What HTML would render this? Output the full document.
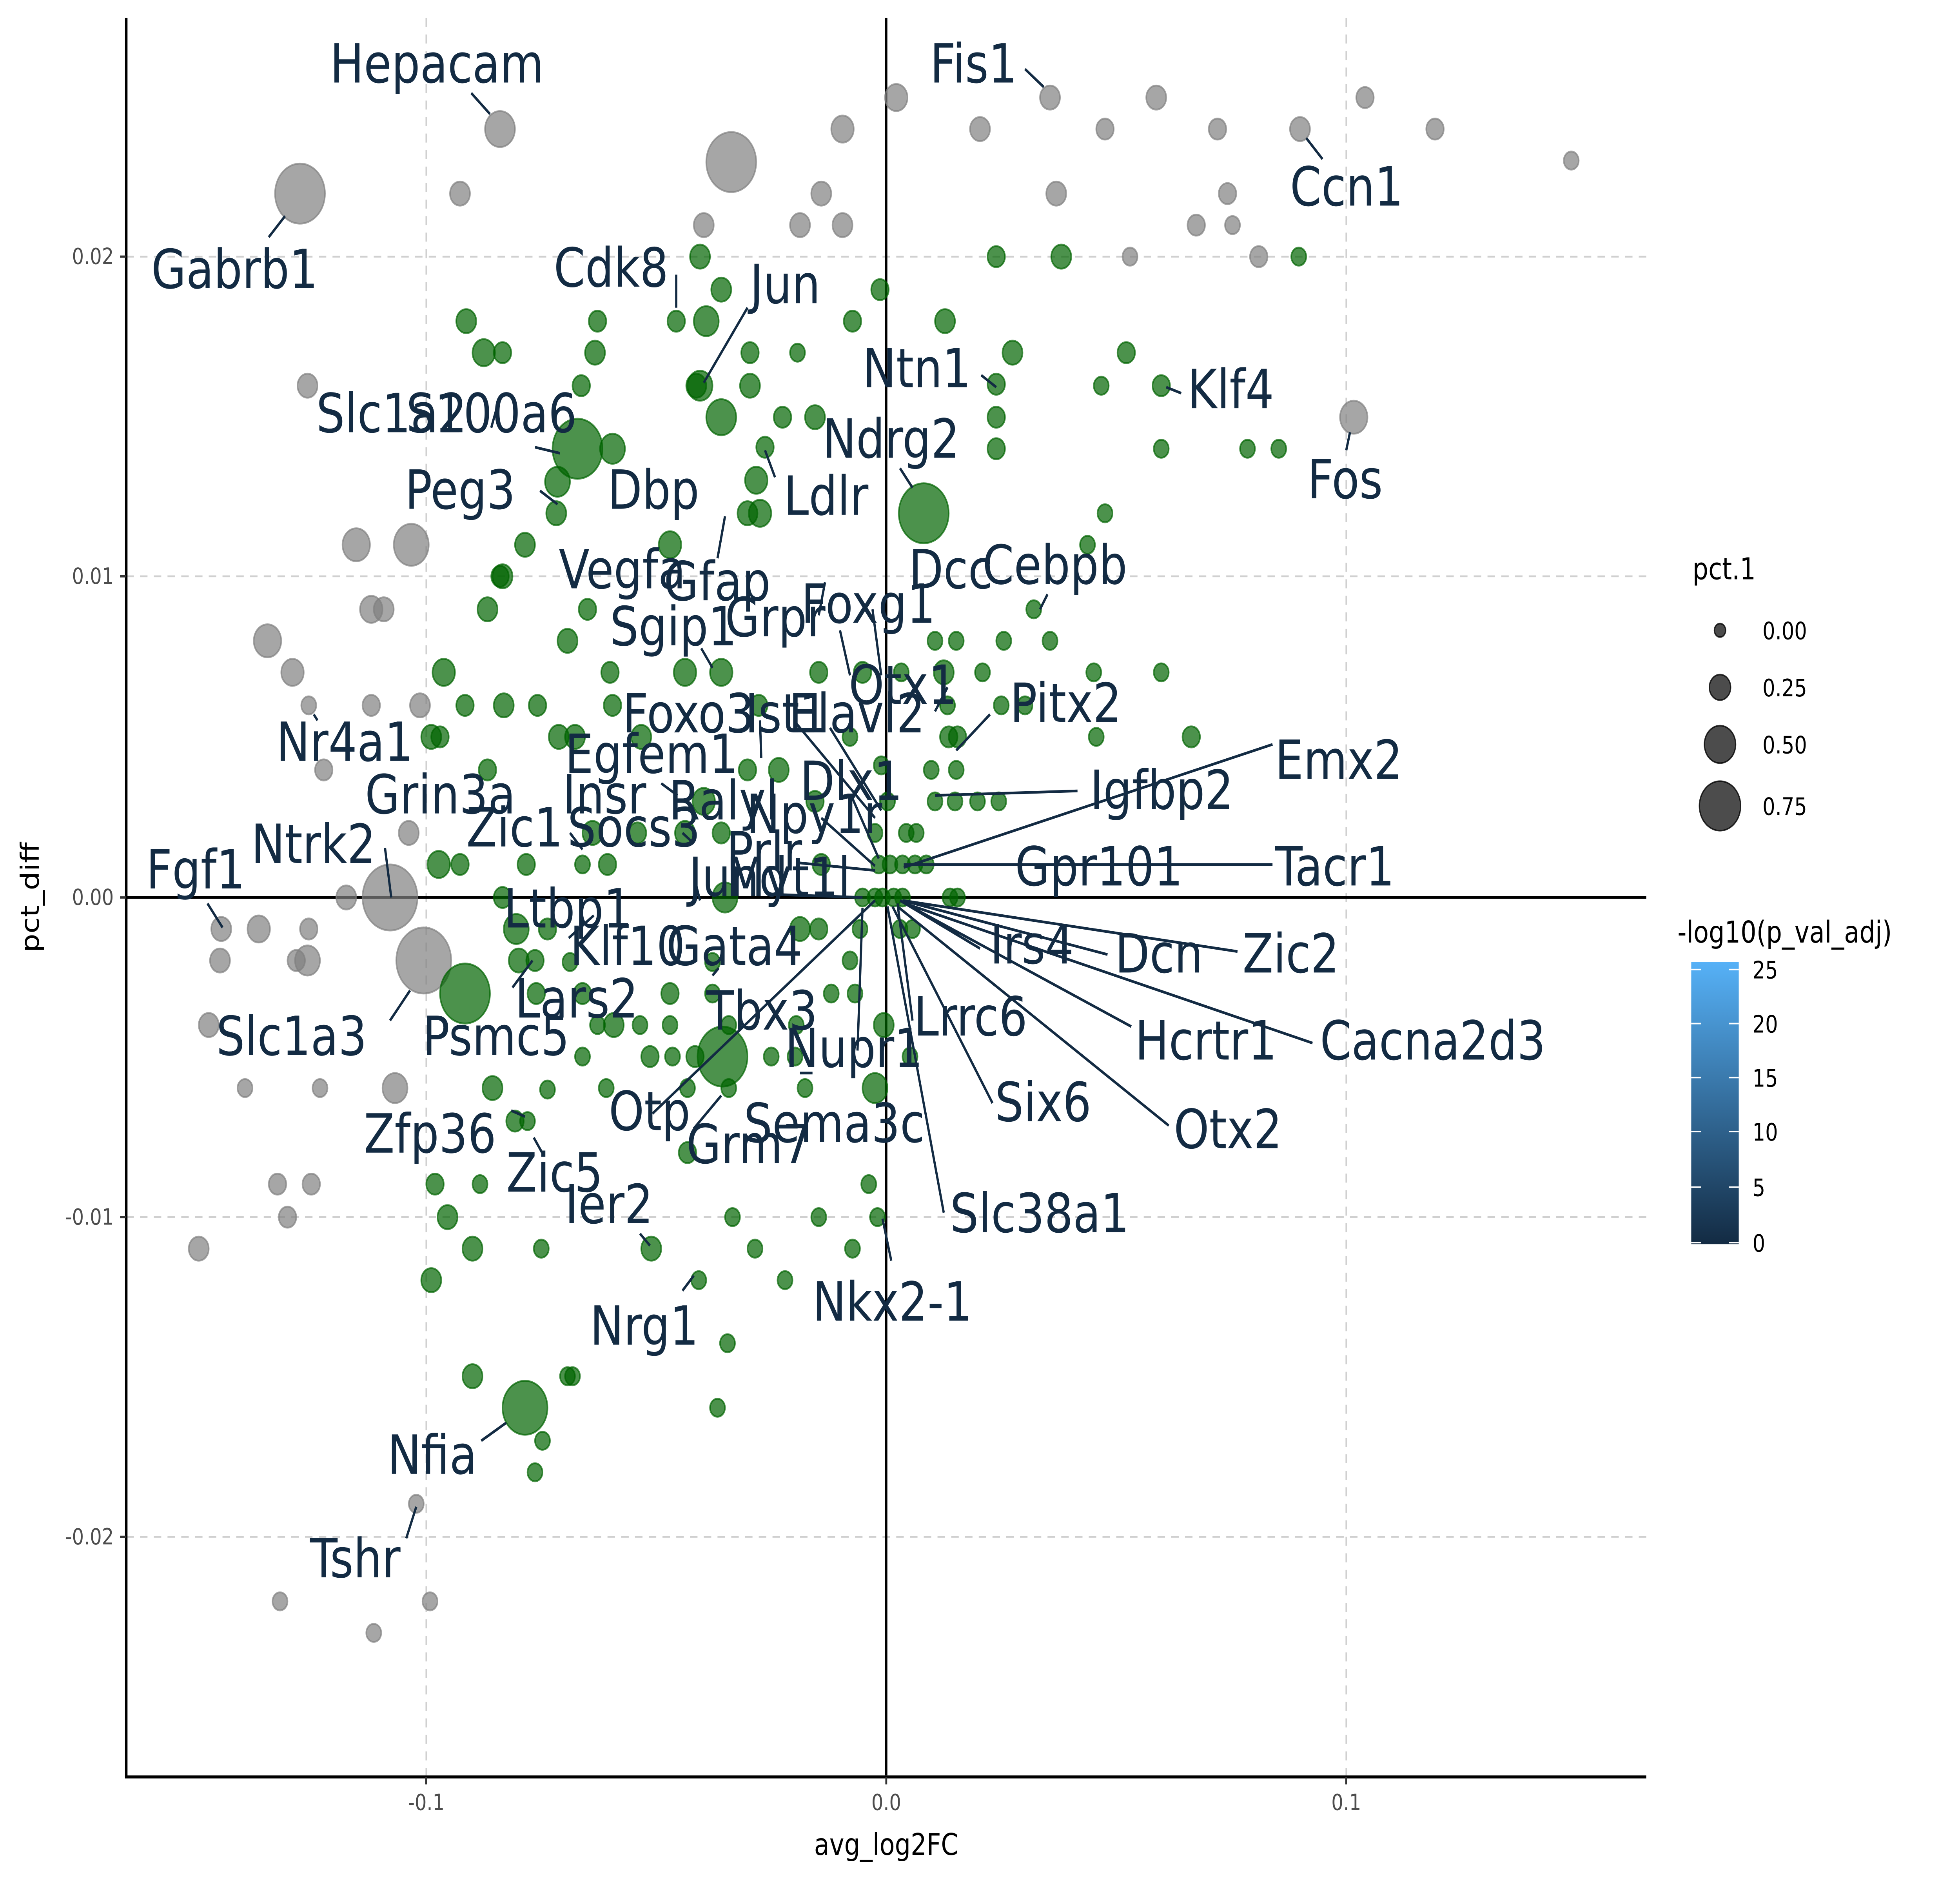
<!DOCTYPE html>
<html><head><meta charset="utf-8"><style>
html,body{margin:0;padding:0;background:#fff;overflow:hidden;width:100%;height:100%}
svg{display:block;position:fixed;left:0;top:0;width:100vw;height:100vh}
.l{font-family:"DejaVu Sans","Liberation Sans",sans-serif;font-size:36px;fill:#132B43}
.t{font-family:"DejaVu Sans","Liberation Sans",sans-serif;font-size:15px;fill:#4d4d4d}
.a{font-family:"DejaVu Sans","Liberation Sans",sans-serif;font-size:20px;fill:#000}
.g{font-family:"DejaVu Sans","Liberation Sans",sans-serif;font-size:16px;fill:#000}
</style></head><body>
<svg id="s" viewBox="0 0 1568 1254" preserveAspectRatio="none" xmlns="http://www.w3.org/2000/svg">
<rect width="1568" height="1254" fill="#fff"/>
<g stroke="#d0d0d0" stroke-width="1.2" stroke-dasharray="6,5">
<line x1="341" y1="12" x2="341" y2="1183"/><line x1="1077" y1="12" x2="1077" y2="1183"/>
<line x1="101" y1="171" x2="1317" y2="171"/><line x1="101" y1="384" x2="1317" y2="384"/>
<line x1="101" y1="811" x2="1317" y2="811"/><line x1="101" y1="1024" x2="1317" y2="1024"/>
</g>
<line x1="709" y1="12" x2="709" y2="1183" stroke="#000" stroke-width="1.8"/>
<line x1="101" y1="598" x2="1317" y2="598" stroke="#000" stroke-width="1.8"/>
<g id="pts"></g>
<g id="lines" stroke="#132B43" stroke-width="1.8" fill="none">
<path d="M377 62L392 76M820 46L835 58M1045 92L1058 106M215 158L228 144M541 183L541 205M598 205L563 255M785 250L797 258M945 262L933 258M393 285L398 270M428 298L448 302M1077 300L1080 288M432 327L446 336M612 300L620 318M720 312L730 325M574 372L580 344M838 396L832 406M655 410L660 388M561 432L570 445M672 420L680 450M698 406L705 450M748 474L758 458M792 476L765 500M251 476L254 480M1018 496L723 578M608 480L609 505M637 482L700 545M664 485L705 540M862 527L748 530M529 522L542 530M682 532L703 572M546 555L555 562M657 545L700 577M456 555L466 566M640 575L700 580M308 565L313 598M810 576L723 576M1018 576L723 576M166 602L178 618M557 590L560 600M620 596L690 598M784 632L720 600M886 636L722 600M990 634L722 600M455 625L475 610M410 658L426 640M730 680L718 602M312 680L328 660M905 684L724 602M1050 695L724 602M570 650L575 645M686 700L690 605M794 735L714 604M522 742L700 600M640 715L650 715M935 750L718 604M409 740L420 744M427 758L435 770M555 752L577 730M755 808L710 604M512 822L520 830M713 840L706 812M546 860L555 850M385 960L405 948M325 1025L333 1004"/>
</g>
<g class="l">
<text x="264" y="55">Hepacam</text><text x="744" y="55">Fis1</text><text x="1032" y="137">Ccn1</text>
<text x="121" y="192">Gabrb1</text><text x="443" y="191">Cdk8</text><text x="600" y="202">Jun</text>
<text x="690" y="258">Ntn1</text><text x="950" y="272">Klf4</text><text x="253" y="288">Slc1a2</text>
<text x="325" y="288">S100a6</text><text x="658" y="305">Ndrg2</text><text x="1046" y="332">Fos</text>
<text x="324" y="339">Peg3</text><text x="486" y="339">Dbp</text><text x="627" y="343">Ldlr</text>
<text x="447" y="392">Vegfa</text><text x="531" y="400">Gfap</text><text x="727" y="392">Dcc</text>
<text x="786" y="389">Cebpb</text><text x="641" y="415">Foxg1</text><text x="488" y="430">Sgip1</text>
<text x="580" y="424">Grpr</text><text x="679" y="469">Otx1</text><text x="808" y="481">Pitx2</text>
<text x="221" y="507">Nr4a1</text><text x="498" y="488">Foxo3</text><text x="596" y="488">Ist1</text>
<text x="631" y="488">Elavl2</text><text x="1020" y="519">Emx2</text><text x="452" y="515">Egfem1</text>
<text x="640" y="533">Dlx1</text><text x="872" y="539">Igfbp2</text><text x="292" y="542">Grin3a</text>
<text x="450" y="542">Insr</text><text x="535" y="546">Ralyl</text><text x="373" y="564">Zic1</text>
<text x="454" y="564">Socs3</text><text x="597" y="555">Npy1r</text><text x="201" y="575">Ntrk2</text>
<text x="581" y="580">Prlr</text><text x="812" y="590">Gpr101</text><text x="1020" y="590">Tacr1</text>
<text x="117" y="592">Fgf1</text><text x="551" y="597">Jund</text><text x="581" y="597">Myt1l</text>
<text x="403" y="618">Ltbp1</text><text x="792" y="642">Irs4</text><text x="892" y="648">Dcn</text>
<text x="994" y="648">Zic2</text><text x="456" y="643">Klf10</text><text x="533" y="643">Gata4</text>
<text x="412" y="678">Lars2</text><text x="731" y="690">Lrrc6</text><text x="173" y="703">Slc1a3</text>
<text x="338" y="703">Psmc5</text><text x="565" y="686">Tbx3</text><text x="908" y="706">Hcrtr1</text>
<text x="1056" y="706">Cacna2d3</text><text x="628" y="711">Nupr1</text><text x="796" y="747">Six6</text>
<text x="487" y="753">Otp</text><text x="595" y="761">Sema3c</text><text x="291" y="768">Zfp36</text>
<text x="939" y="765">Otx2</text><text x="549" y="775">Grm7</text><text x="405" y="794">Zic5</text>
<text x="452" y="815">Ier2</text><text x="760" y="821">Slc38a1</text><text x="650" y="880">Nkx2-1</text>
<text x="472" y="896">Nrg1</text><text x="310" y="982">Nfia</text><text x="248" y="1051">Tshr</text>
</g>
<line x1="101" y1="12" x2="101" y2="1184" stroke="#000" stroke-width="2"/>
<line x1="100" y1="1184" x2="1317" y2="1184" stroke="#000" stroke-width="2"/>
<g stroke="#333" stroke-width="1.5">
<line x1="96" y1="171" x2="101" y2="171"/><line x1="96" y1="384" x2="101" y2="384"/><line x1="96" y1="598" x2="101" y2="598"/><line x1="96" y1="811" x2="101" y2="811"/><line x1="96" y1="1024" x2="101" y2="1024"/>
<line x1="341" y1="1184" x2="341" y2="1189"/><line x1="709" y1="1184" x2="709" y2="1189"/><line x1="1077" y1="1184" x2="1077" y2="1189"/>
</g>
<g class="t" text-anchor="end">
<text x="91" y="176">0.02</text><text x="91" y="389">0.01</text><text x="91" y="603">0.00</text><text x="91" y="816">-0.01</text><text x="91" y="1029">-0.02</text>
</g>
<g class="t" text-anchor="middle">
<text x="341" y="1206">-0.1</text><text x="709" y="1206">0.0</text><text x="1077" y="1206">0.1</text>
</g>
<text class="a" x="709" y="1236" text-anchor="middle">avg_log2FC</text>
<text class="a" x="31" y="598" text-anchor="middle" transform="rotate(-90 31 598)">pct_diff</text>
<text class="a" x="1354" y="386">pct.1</text>
<g fill="#000" fill-opacity="0.7" stroke="#000" stroke-opacity="0.8" stroke-width="1">
<circle cx="1376" cy="420" r="4.5"/><circle cx="1376" cy="458" r="8.5"/><circle cx="1376" cy="496" r="12.5"/><circle cx="1376" cy="537" r="16.5"/>
</g>
<g class="g"><text x="1410" y="426">0.00</text><text x="1410" y="464">0.25</text><text x="1410" y="502">0.50</text><text x="1410" y="543">0.75</text></g>
<text class="a" x="1342" y="628">-log10(p_val_adj)</text>
<defs><linearGradient id="cb" x1="0" y1="0" x2="0" y2="1"><stop offset="0" stop-color="#56B1F7"/><stop offset="1" stop-color="#132B43"/></linearGradient></defs>
<rect x="1353" y="641" width="38" height="188" fill="url(#cb)"/>
<g stroke="#fff" stroke-width="1">
<path d="M1353 646h8M1383 646h8M1353 682h8M1383 682h8M1353 718h8M1383 718h8M1353 754h8M1383 754h8M1353 791h8M1383 791h8M1353 828h8M1383 828h8"/>
</g>
<g class="g"><text x="1402" y="652">25</text><text x="1402" y="688">20</text><text x="1402" y="724">15</text><text x="1402" y="760">10</text><text x="1402" y="797">5</text><text x="1402" y="834">0</text></g>
</svg>
<script>
var grey=[[400,86,12],[240,129,20],[585,108,20],[717,65,9],[674,86,9],[784,86,8],[840,65,8],[925,65,8],[884,86,7],[974,86,7],[1040,86,8],[1092,65,7],[1148,86,7],[1257,107,6],[845,129,8],[982,129,7],[657,129,8],[368,129,8],[563,150,8],[640,150,8],[674,150,8],[957,150,7],[986,150,6],[1007,171,7],[904,171,6],[1083,278,11],[246,257,8],[285,363,11],[329,363,14],[297,406,9],[307,406,8],[214,427,11],[234,448,9],[247,470,6],[297,470,7],[336,470,8],[259,513,7],[327,555,8],[277,598,8],[312,598,22],[339,640,22],[207,619,9],[177,619,8],[176,640,8],[247,619,7],[237,640,7],[246,640,10],[167,683,8],[196,725,6],[256,725,6],[316,725,10],[222,789,7],[249,789,7],[230,811,7],[159,832,8],[333,1002,6],[344,1067,6],[224,1067,6],[299,1088,6]];
var green=[[739,342,20],[462,299,20],[372,662,20],[420,938,18],[578,704,20],[577,278,12],[490,299,10],[446,321,10],[445,342,8],[565,214,10],[560,257,10],[557,257,8],[600,257,8],[536,363,9],[355,448,9],[390,406,8],[454,427,8],[447,491,8],[460,491,8],[420,363,8],[402,384,8],[400,384,7],[478,214,7],[476,235,8],[465,257,7],[387,235,9],[402,235,7],[373,214,8],[577,193,8],[560,171,8],[541,214,7],[605,320,9],[608,342,9],[598,342,8],[612,298,7],[626,278,7],[652,278,8],[600,235,7],[638,235,6],[682,214,7],[704,193,7],[756,214,8],[810,235,8],[797,171,7],[849,171,8],[1039,171,6],[797,256,7],[797,278,7],[797,299,7],[901,235,7],[929,257,7],[881,257,6],[929,299,6],[998,299,6],[1023,299,6],[884,342,6],[870,363,6],[548,448,9],[577,448,9],[430,470,7],[403,470,8],[372,470,7],[345,491,8],[352,491,7],[390,513,7],[490,470,7],[513,491,8],[488,448,7],[470,406,7],[607,470,7],[655,448,7],[690,448,7],[721,448,6],[748,427,6],[755,448,8],[786,448,6],[765,427,6],[803,427,6],[827,406,6],[840,427,6],[875,448,6],[929,448,6],[801,470,6],[820,470,6],[953,491,7],[877,491,6],[759,491,7],[766,491,7],[598,513,7],[623,513,8],[652,534,7],[563,534,9],[577,555,7],[548,555,8],[510,555,7],[474,555,8],[486,576,7],[466,576,6],[421,576,7],[368,576,7],[351,576,9],[413,619,10],[438,619,7],[402,598,7],[415,640,8],[428,640,7],[429,662,7],[466,662,7],[491,683,8],[512,683,6],[536,662,7],[536,683,6],[556,704,7],[520,704,7],[485,725,6],[466,704,6],[394,725,8],[412,747,7],[422,747,6],[348,789,7],[358,811,8],[384,789,6],[378,832,8],[345,853,8],[433,832,6],[521,832,8],[559,853,6],[586,811,6],[604,832,6],[628,853,6],[655,811,6],[682,832,6],[695,789,6],[702,811,6],[700,725,10],[707,683,8],[728,704,6],[582,895,6],[574,938,6],[378,917,8],[454,917,6],[458,917,6],[434,960,6],[428,981,6],[550,768,7],[617,704,6],[644,725,6],[636,704,6],[580,598,10],[640,619,8],[655,619,7],[657,576,7],[665,662,6],[684,662,6],[680,640,6],[688,619,6],[690,598,6],[700,598,6],[706,598,6],[715,598,6],[722,598,6],[730,619,6],[720,619,6],[703,576,6],[712,576,6],[722,576,6],[732,576,6],[741,576,6],[700,555,6],[725,555,6],[733,555,6],[748,534,6],[764,534,6],[782,534,6],[799,534,6],[765,513,6],[745,513,6],[760,598,6],[766,598,6],[710,534,6],[705,510,6],[758,470,6],[680,491,6],[637,683,6],[570,641,6],[570,662,6],[583,683,6],[583,725,6],[550,725,6],[538,704,6],[478,683,6],[456,641,6],[438,726,6]];
var ns="http://www.w3.org/2000/svg",g=document.getElementById("pts");
function add(a,f,s){a.forEach(function(p){var c=document.createElementNS(ns,"circle");c.setAttribute("cx",p[0]);c.setAttribute("cy",p[1]);c.setAttribute("r",p[2]);c.setAttribute("fill",f);c.setAttribute("fill-opacity","0.7");c.setAttribute("stroke",s);c.setAttribute("stroke-opacity","0.7");c.setAttribute("stroke-width","1.2");g.appendChild(c);});}
add(grey,"#808080","#808080");add(green,"#006400","#006400");
</script>
</body></html>
